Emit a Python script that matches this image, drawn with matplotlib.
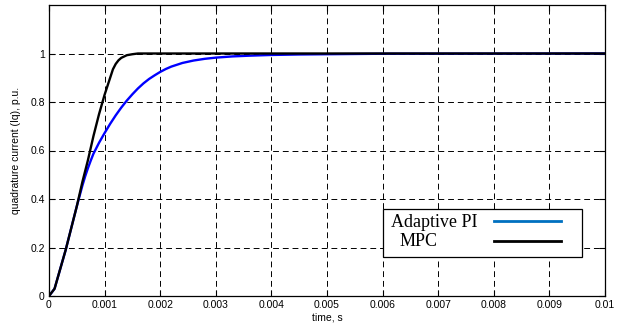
import numpy as np
import matplotlib.pyplot as plt
from matplotlib.patches import Rectangle

# step response of the quadrature current
t_mpc = [0, 0.0001, 0.0002, 0.0003, 0.0004, 0.0005, 0.0006, 0.0007, 0.0008,
         0.0009, 0.001, 0.0011, 0.00115, 0.0012, 0.00125, 0.0013, 0.0014,
         0.0015, 0.0016, 0.0018, 0.002, 0.01]
iq_mpc = [0, 0.03, 0.11, 0.19, 0.28, 0.37, 0.47, 0.56, 0.66,
          0.75, 0.83, 0.90, 0.935, 0.957, 0.972, 0.982, 0.993,
          0.997, 1.0, 1.0, 1.0, 1.0]

t_pi = [0, 0.0001, 0.0002, 0.0003, 0.0004, 0.0005, 0.0006, 0.00065, 0.0007,
        0.00075, 0.0008, 0.0009, 0.001, 0.0011, 0.0012, 0.0013, 0.0014,
        0.0015, 0.0016, 0.0017, 0.0018, 0.0019, 0.002, 0.0021, 0.0022,
        0.0024, 0.0026, 0.0028, 0.003, 0.0033, 0.0036, 0.004, 0.0045,
        0.005, 0.006, 0.01]
iq_pi = [0, 0.03, 0.11, 0.19, 0.28, 0.37, 0.455, 0.493, 0.527,
         0.558, 0.587, 0.632, 0.672, 0.71, 0.745, 0.777, 0.806,
         0.832, 0.856, 0.877, 0.895, 0.91, 0.924, 0.936, 0.946,
         0.961, 0.971, 0.978, 0.983, 0.988, 0.991, 0.994, 0.996,
         0.997, 0.999, 1.0]

x_ticks = [0, 0.001, 0.002, 0.003, 0.004, 0.005, 0.006, 0.007, 0.008, 0.009, 0.01]
x_labels = ['0', '0.001', '0.002', '0.003', '0.004', '0.005', '0.006',
            '0.007', '0.008', '0.009', '0.01']
y_ticks = [0, 0.2, 0.4, 0.6, 0.8, 1.0]
y_labels = ['0', '0.2', '0.4', '0.6', '0.8', '1']

plt.rcParams['font.family'] = ['Liberation Sans', 'DejaVu Sans']

fig = plt.figure(figsize=(6.17, 3.34), dpi=100)
ax = fig.add_axes([49 / 617, 38 / 334, 556 / 617, 291 / 334])

ax.plot(t_pi, iq_pi, color='#0000ff', lw=1.7)
ax.plot(t_mpc, iq_mpc, color='black', lw=1.7)

ax.set_xlim(0, 0.01)
ax.set_ylim(0, 1.2)
ax.set_xticks(x_ticks)
ax.set_xticklabels(x_labels)
ax.set_yticks(y_ticks)
ax.set_yticklabels(y_labels)
ax.tick_params(direction='in', length=4, width=0.8, labelsize=7.5,
               top=True, right=True, pad=3)
ax.grid(True, color='black', linestyle=(0, (6, 4)), linewidth=0.7)
for s in ax.spines.values():
    s.set_linewidth(0.9)

ax.set_xlabel('time, s', fontsize=7.5, labelpad=2)
ax.set_ylabel('quadrature current (Iq), p.u.', fontsize=7.5, labelpad=7)

# legend box drawn by hand: labels on the left, line samples on the right
tr = ax.transAxes
ax.add_patch(Rectangle((0.6007, 0.134), 0.358, 0.165, transform=tr,
                       facecolor='white', edgecolor='black', lw=0.9, zorder=5))
ax.text(0.615, 0.254, 'Adaptive PI', transform=tr, va='center', ha='left',
        family='Liberation Serif', fontsize=13, zorder=6)
ax.text(0.631, 0.186, 'MPC', transform=tr, va='center', ha='left',
        family='Liberation Serif', fontsize=13, zorder=6)
ax.plot([0.800, 0.921], [0.257, 0.257], transform=tr, color='#0070c0',
        lw=2, zorder=6)
ax.plot([0.800, 0.921], [0.188, 0.188], transform=tr, color='black',
        lw=2, zorder=6)

fig.savefig('out.png', dpi=100)
